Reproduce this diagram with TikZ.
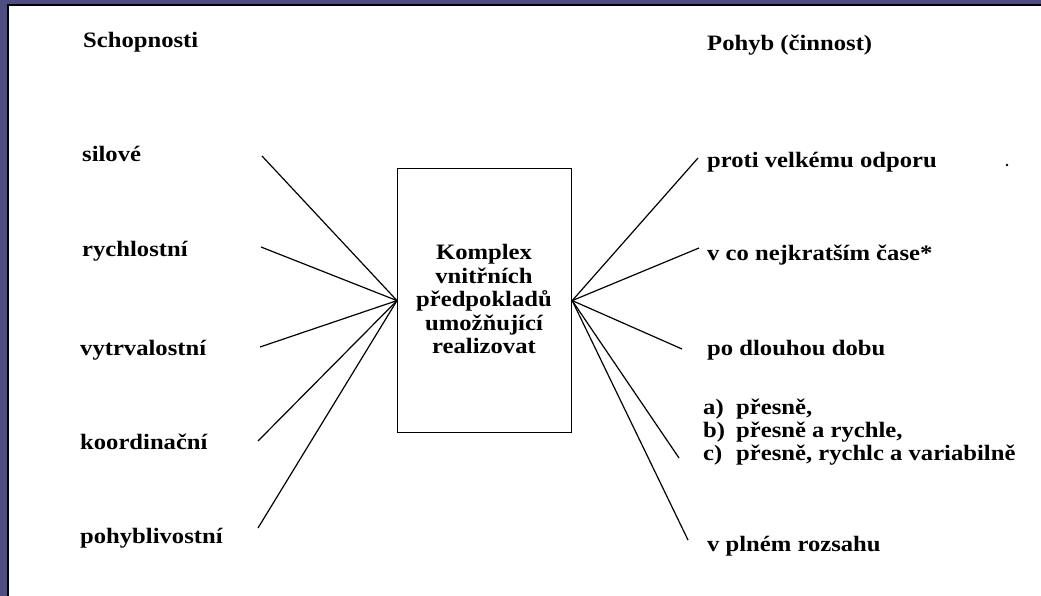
\documentclass[tikz,border=0pt]{standalone}
\usepackage{fontspec}
\setmainfont{Liberation Serif}[FakeStretch=1.12]
\definecolor{bgblue}{RGB}{78,78,130}
\tikzset{
  lbl/.style={anchor=base west, inner sep=0pt, font=\fontsize{22}{23}\selectfont\bfseries},
  head/.style={anchor=base west, inner sep=0pt, font=\fontsize{22}{23}\selectfont\bfseries},
  ray/.style={line width=1.2pt, black}
}
\begin{document}
\begin{tikzpicture}[x=1pt,y=-1pt]
\useasboundingbox (0,0) rectangle (1041,596);
\fill[bgblue] (0,0) rectangle (1041,596);
\fill[white] (8,5) rectangle (1041,596);
\draw[black, line width=1.2pt] (8,596) -- (8,5) -- (1041,5);
% headers
\node[head] (hl) at (83,48) {Schopnosti};
\node[head] (hr) at (707,51) {Pohyb (činnost)};
% left items
\node[lbl] (a1) at (82,162) {silové};
\node[lbl] (a2) at (82,256) {rychlostní};
\node[lbl] (a3) at (80,355) {vytrvalostní};
\node[lbl] (a4) at (80,449) {koordinační};
\node[lbl] (a5) at (80,543) {pohyblivostní};
% right items
\node[lbl] (b1) at (707,168) {proti velkému odporu};
\node[lbl] (b2) at (707,260) {v co nejkratším čase*};
\node[lbl] (b3) at (707,355) {po dlouhou dobu};
\node[lbl] (b4a) at (703,414) {a)};
\node[lbl] (b4b) at (703,437) {b)};
\node[lbl] (b4c) at (703,460) {c)};
\node[lbl] (t4a) at (736,414) {přesně,};
\node[lbl] (t4b) at (736,437) {přesně a rychle,};
\node[lbl] (t4c) at (736,460) {přesně, rychlc a variabilně};
\node[lbl] (b5) at (707,551) {v plném rozsahu};
\fill (1007,165) circle (1.3pt);
% box
\node[draw, line width=1.2pt, minimum width=174pt, minimum height=264pt, inner sep=0pt, anchor=north west] (box) at (397,168) {};
\node[align=center, font=\fontsize{22}{23.5}\selectfont\bfseries, inner sep=0pt] (boxtxt) at (484,299) {Komplex\\vnitřních\\předpokladů\\umožňující\\realizovat};
% ray ends
\coordinate (l1) at (262,156);
\coordinate (l2) at (261,247);
\coordinate (l3) at (260,347);
\coordinate (l4) at (258,441);
\coordinate (l5) at (258,528);
\coordinate (r1) at (698,158);
\coordinate (r2) at (699,248);
\coordinate (r3) at (682,349);
\coordinate (r4) at (679,458);
\coordinate (r5) at (688,540);
\foreach \p in {l1,l2,l3,l4,l5} \draw[ray] (\p) -- (box.west);
\foreach \p in {r1,r2,r3,r4,r5} \draw[ray] (box.east) -- (\p);
\end{tikzpicture}
\end{document}
